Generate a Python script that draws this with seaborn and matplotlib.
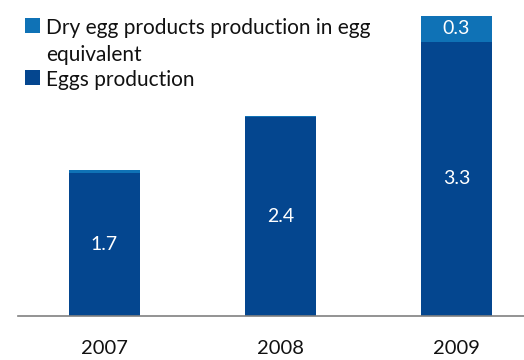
import matplotlib
matplotlib.use("Agg")
import matplotlib.pyplot as plt
import seaborn as sns
import pandas as pd
import numpy as np
from matplotlib.patches import Patch

years = ["2007", "2008", "2009"]
eggs = [1.72, 2.39, 3.30]
dry = [0.03, 0.02, 0.31]
series_names = ["Dry egg products production in egg\nequivalent", "Eggs production"]

dark = "#04468F"
light = "#0F72B6"

sns.set_theme(style="white")
plt.rcParams["font.family"] = ["Lato", "DejaVu Sans"]

df = pd.DataFrame({"year": years, "eggs": eggs, "dry": dry})

fig = plt.figure(figsize=(5.24, 3.6), dpi=100)
ax = fig.add_axes([18 / 524, 1 - 315.5 / 360, 1 - 18 / 524, (315.5 - 16) / 360])

sns.barplot(data=df, x="year", y="eggs", color=dark, saturation=1, width=0.4,
            linewidth=0, ax=ax)
sns.barplot(data=df, x="year", y="dry", color=light, saturation=1, width=0.4,
            linewidth=0, bottom=np.array(eggs), ax=ax)

c_eggs, c_dry = ax.containers[0], ax.containers[1]
ax.bar_label(c_eggs, labels=[f"{v:.1f}" for v in eggs], label_type="center",
             color="white", fontsize=14)
ax.bar_label(c_dry, labels=[f"{v:.1f}" if v >= 0.1 else "" for v in dry],
             label_type="center", color="white", fontsize=14)

ax.set_ylim(0, max(e + d for e, d in zip(eggs, dry)))
ax.set_xlim(-0.491, 2.384)
ax.set_xlabel("")
ax.set_ylabel("")
ax.set_yticks([])
for s in ["left", "right", "top"]:
    ax.spines[s].set_visible(False)
ax.spines["bottom"].set_color("#808080")
ax.spines["bottom"].set_linewidth(1.2)
ax.tick_params(axis="x", length=0, pad=18, labelsize=14.5, labelcolor="#111111")

handles = [Patch(color=light, linewidth=0), Patch(color=dark, linewidth=0)]
leg = fig.legend(handles, series_names, loc="upper left",
                 bbox_to_anchor=(25 / 524, 1 - 18 / 360), frameon=False,
                 fontsize=15, handlelength=0.72, handleheight=0.72,
                 handletextpad=0.3, labelspacing=0.22, borderaxespad=0,
                 borderpad=0)
for t in leg.get_texts():
    t.set_linespacing(1.46)
    t.set_color("#111111")
try:
    for col in leg._legend_handle_box.get_children():
        for item in col.get_children():
            item.align = "top"
except Exception:
    pass

fig.savefig("out.png", dpi=100)
